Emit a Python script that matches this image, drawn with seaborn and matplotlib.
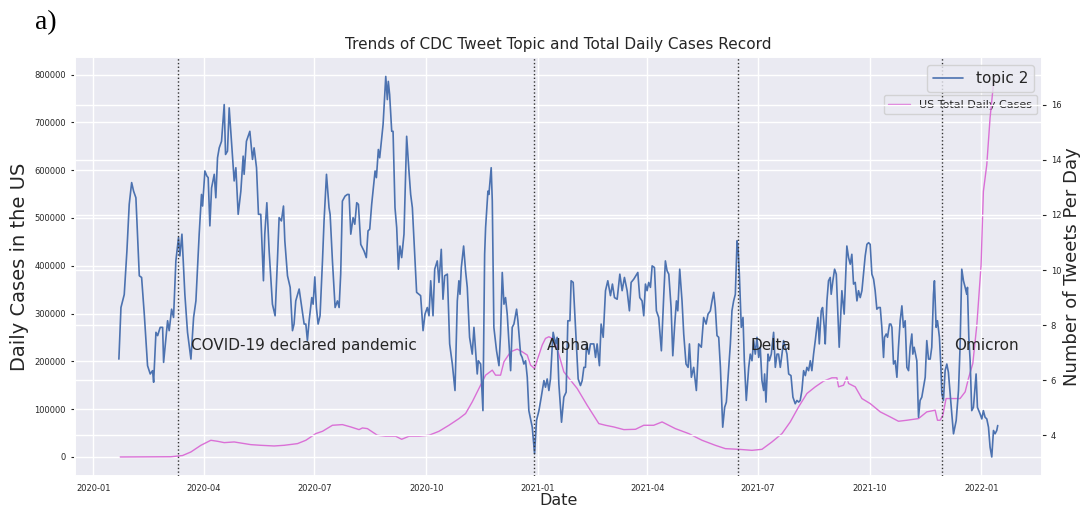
import pandas as pd
import matplotlib
matplotlib.use('Agg')
import matplotlib.pyplot as plt
import matplotlib.dates as mdates
import seaborn as sns

#---------------------------------------------------
#   data
#---------------------------------------------------
# topic 2: days since 2020-01-01 / tweets per day
topic_day = [
    21.0, 22.7, 25.4, 27.6, 29.5, 31.5, 33.1, 35.0, 37.8, 39.7, 41.9, 44.6, 46.8, 48.7, 49.6, 51.5,
    52.9, 55.0, 57.0, 57.8, 61.1, 62.4, 64.4, 66.0, 67.9, 70.1, 71.2, 72.9, 75.3, 77.5, 80.3, 82.5,
    84.4, 87.1, 89.0, 89.9, 91.8, 93.4, 94.5, 95.9, 97.3, 99.5, 100.8, 102.2, 103.6, 105.5, 107.7, 108.8,
    110.4, 111.8, 113.7, 115.9, 117.3, 119.2, 121.4, 123.3, 124.1, 126.0, 128.8, 131.0, 132.3, 134.3, 135.9, 137.8,
    140.0, 141.1, 142.8, 144.7, 147.4, 149.6, 151.5, 152.9, 154.8, 156.5, 157.6, 159.8, 162.0, 163.9, 165.2, 166.6,
    169.4, 171.6, 173.5, 174.9, 176.2, 177.6, 179.8, 180.9, 182.3, 183.6, 185.0, 186.6, 188.6, 189.9, 191.9, 194.0,
    194.9, 196.8, 199.0, 200.9, 202.3, 203.6, 205.0, 207.2, 209.1, 210.5, 211.9, 213.8, 215.2, 216.8, 218.2, 220.1,
    222.8, 224.7, 226.1, 227.5, 229.1, 231.9, 233.0, 234.6, 235.7, 238.5, 240.7, 242.0, 242.8, 243.9, 245.6, 246.7,
    248.3, 249.7, 251.1, 252.4, 253.8, 255.7, 257.9, 259.8, 261.2, 262.6, 264.8, 266.1, 268.1, 269.4, 271.4, 273.0,
    274.9, 276.3, 277.7, 279.6, 281.0, 283.1, 284.5, 286.4, 287.8, 289.2, 291.4, 293.3, 295.5, 297.7, 299.6, 300.9,
    301.8, 302.9, 304.8, 306.4, 307.8, 309.7, 311.9, 313.3, 316.0, 316.9, 318.8, 320.7, 322.1, 322.9, 324.8, 325.6,
    327.5, 328.4, 329.7, 331.9, 333.9, 335.2, 336.6, 338.0, 339.3, 340.7, 343.5, 344.8, 346.2, 348.4, 349.5, 351.7,
    353.0, 354.4, 355.8, 357.2, 358.5, 361.3, 363.2, 364.8, 366.8, 368.7, 370.9, 372.2, 373.6, 375.0, 376.3, 377.7,
    378.5, 380.5, 381.8, 383.2, 385.4, 387.3, 389.2, 390.6, 392.3, 393.3, 395.0, 396.9, 399.1, 401.0, 402.4, 403.8,
    405.1, 406.0, 407.9, 409.2, 412.0, 413.4, 414.7, 416.6, 418.0, 419.7, 421.6, 423.5, 425.7, 427.3, 429.0, 431.2,
    433.4, 435.3, 437.2, 439.4, 441.3, 442.7, 444.9, 448.2, 449.8, 451.7, 453.1, 454.5, 455.8, 457.2, 458.6, 460.0,
    461.9, 463.5, 465.4, 467.6, 469.6, 470.9, 472.3, 473.7, 475.6, 477.0, 478.6, 480.0, 481.1, 482.7, 484.6, 486.0,
    487.9, 489.6, 490.7, 492.3, 494.2, 496.4, 498.3, 500.5, 502.4, 504.4, 506.0, 507.9, 509.3, 510.7, 512.0, 513.4,
    514.8, 516.2, 518.1, 519.7, 521.1, 522.5, 524.4, 525.7, 527.1, 528.5, 529.9, 530.7, 531.8, 533.4, 534.8, 535.9,
    537.5, 539.5, 540.8, 542.2, 543.6, 544.9, 546.3, 547.7, 549.0, 550.4, 551.8, 552.6, 553.7, 555.4, 556.5, 558.1,
    560.0, 561.4, 562.8, 564.1, 565.5, 566.9, 568.2, 569.6, 571.0, 572.4, 574.3, 575.9, 577.8, 579.2, 580.6, 581.9,
    583.3, 584.7, 586.1, 587.4, 588.8, 590.2, 591.5, 592.9, 594.3, 596.5, 597.6, 599.2, 600.3, 601.7, 602.5, 603.9,
    605.2, 606.6, 607.4, 608.8, 610.2, 611.6, 612.9, 614.0, 616.2, 618.1, 620.3, 621.7, 623.1, 624.4, 625.8, 627.2,
    628.6, 629.9, 631.3, 632.7, 634.0, 635.4, 636.8, 638.2, 639.5, 640.9, 642.3, 643.6, 645.0, 646.4, 647.8, 649.1,
    650.5, 651.3, 652.7, 653.8, 655.4, 656.5, 657.4, 658.7, 660.1, 661.5, 662.8, 664.2, 665.6, 666.9, 668.3, 669.7,
    671.1, 672.4, 673.8, 674.6, 675.7, 676.8, 677.9, 679.3, 680.6, 682.0, 683.4, 684.8, 686.1, 687.5, 688.9, 690.2,
    691.6, 692.4, 693.8, 694.9, 696.5, 697.6, 698.5, 699.8, 701.2, 702.6, 703.9, 705.3, 706.7, 708.1, 710.3, 712.2,
    713.5, 714.9, 716.3, 717.7, 719.0, 719.6, 720.7, 721.8, 723.1, 724.5, 726.7, 727.8, 730.0, 731.4, 732.7, 734.1,
    735.5, 736.9, 738.2, 739.6, 741.0, 742.3, 743.7, 744.5,
]
topic_count = [
    6.77, 8.64, 9.11, 10.69, 12.38, 13.17, 12.86, 12.62, 9.79, 9.73, 8.40, 6.53, 6.23, 6.35, 5.93, 7.74,
    7.62, 7.92, 7.92, 6.65, 8.16, 7.80, 8.58, 8.28, 10.33, 11.18, 10.51, 11.30, 9.12, 7.74, 6.77, 8.28,
    8.88, 11.30, 12.74, 12.32, 13.59, 13.41, 13.35, 11.60, 12.98, 13.47, 12.62, 14.07, 14.43, 14.67, 16.00, 14.19,
    14.31, 15.88, 14.67, 13.23, 13.71, 12.02, 12.86, 14.13, 13.47, 14.67, 15.03, 14.01, 14.43, 13.71, 12.02, 12.02,
    9.61, 11.30, 12.44, 10.69, 8.76, 8.34, 10.33, 11.90, 11.78, 12.32, 11.06, 9.79, 9.37, 7.80, 8.04, 8.88,
    9.31, 8.64, 8.04, 8.04, 7.44, 8.16, 9.00, 8.76, 9.75, 8.64, 8.04, 8.34, 10.33, 11.78, 13.47, 12.26,
    12.02, 10.33, 8.64, 8.88, 8.64, 9.85, 12.50, 12.68, 12.74, 12.74, 11.30, 11.90, 11.66, 12.44, 12.38, 10.93,
    10.69, 10.45, 11.42, 11.48, 12.38, 13.59, 13.35, 14.37, 14.07, 15.28, 17.02, 16.18, 16.84, 16.36, 15.03, 15.03,
    12.26, 11.54, 10.03, 10.87, 10.45, 11.30, 14.85, 13.59, 12.74, 12.26, 10.33, 9.19, 9.12, 9.07, 7.80, 8.40,
    8.64, 8.34, 9.61, 8.34, 10.03, 10.33, 9.55, 10.75, 8.94, 9.79, 9.85, 7.32, 6.59, 5.63, 8.88, 9.61,
    9.12, 10.09, 10.87, 9.97, 9.37, 7.56, 6.95, 7.92, 6.23, 6.71, 6.59, 4.90, 10.57, 11.54, 12.86, 12.74,
    13.71, 12.50, 7.92, 7.07, 6.53, 7.68, 9.91, 8.76, 9.00, 8.40, 6.35, 7.92, 8.04, 8.58, 8.16, 6.95,
    6.83, 6.59, 6.71, 6.11, 4.90, 4.30, 3.34, 4.54, 4.90, 5.39, 5.99, 5.75, 6.05, 5.63, 6.05, 7.20,
    7.74, 7.32, 7.56, 5.87, 4.48, 5.39, 5.57, 8.16, 8.16, 9.61, 9.55, 7.92, 6.05, 5.81, 5.99, 6.47,
    6.47, 7.32, 6.95, 7.32, 7.32, 6.83, 7.32, 6.53, 8.04, 7.56, 9.25, 9.61, 9.07, 9.49, 9.00, 8.94,
    9.85, 9.25, 9.73, 9.25, 8.52, 9.55, 9.67, 9.91, 9.00, 8.88, 8.34, 9.49, 9.25, 9.55, 9.37, 10.15,
    10.09, 8.52, 8.28, 7.07, 9.12, 10.33, 9.97, 9.85, 8.64, 6.89, 8.04, 8.88, 8.52, 10.03, 8.88, 7.68,
    6.59, 6.47, 7.32, 6.11, 6.47, 5.63, 7.32, 7.20, 8.28, 8.04, 8.40, 8.52, 8.88, 9.19, 8.64, 7.62,
    7.56, 6.47, 4.30, 5.02, 5.21, 6.11, 7.32, 8.52, 8.88, 9.12, 11.06, 10.81, 9.85, 7.92, 8.28, 6.71,
    5.27, 6.47, 6.95, 6.71, 7.44, 6.95, 7.56, 6.83, 7.20, 5.99, 5.63, 6.23, 5.21, 6.95, 6.71, 6.95,
    7.74, 6.47, 6.95, 6.95, 6.47, 6.95, 7.44, 7.20, 6.95, 6.23, 6.17, 5.39, 5.15, 5.27, 5.21, 5.27,
    5.63, 6.35, 6.17, 6.47, 6.35, 6.71, 6.35, 6.95, 7.44, 8.28, 7.32, 8.52, 8.64, 7.92, 7.32, 8.88,
    9.61, 9.73, 9.12, 9.61, 10.03, 9.85, 8.40, 7.20, 9.25, 8.40, 10.87, 10.45, 10.21, 10.57, 9.49, 9.55,
    8.88, 9.25, 9.00, 9.25, 9.85, 10.51, 10.93, 10.99, 10.93, 9.85, 9.67, 9.25, 8.58, 8.64, 8.64, 7.92,
    6.83, 7.56, 7.68, 7.56, 8.04, 8.04, 7.92, 6.59, 6.71, 6.11, 7.20, 8.16, 8.70, 7.92, 8.16, 6.47,
    6.35, 7.20, 7.68, 6.95, 7.20, 6.95, 6.71, 4.66, 5.27, 5.39, 5.75, 6.11, 7.44, 6.77, 6.77, 7.20,
    9.12, 9.61, 7.92, 8.16, 7.56, 6.59, 5.51, 5.27, 6.35, 6.59, 6.29, 5.51, 4.78, 4.06, 4.54, 5.63,
    7.20, 10.03, 9.61, 9.37, 9.12, 9.37, 7.56, 6.71, 4.90, 5.02, 6.23, 5.02, 4.78, 4.60, 4.90, 4.66,
    4.60, 4.30, 3.58, 3.22, 4.18, 4.06, 4.18, 4.36,
]

# US total daily cases: days since 2020-01-01 / cases
case_day = [
    22.1, 63.8, 73.4, 80.3, 88.5, 96.7, 102.2, 107.7, 115.9, 129.6, 137.8, 148.8, 157.0, 168.0, 174.9, 183.1,
    188.6, 196.8, 205.0, 211.9, 218.7, 221.5, 225.6, 233.8, 240.6, 248.9, 253.8, 259.8, 268.1, 276.3, 284.5, 292.7,
    301.0, 306.4, 311.9, 317.4, 322.9, 328.4, 331.1, 335.2, 338.0, 343.5, 348.9, 353.0, 357.2, 359.9, 363.2, 365.4,
    369.5, 372.2, 375.0, 377.7, 381.8, 387.3, 392.8, 398.3, 406.5, 416.1, 421.6, 428.4, 436.7, 446.3, 453.1, 461.3,
    468.2, 479.1, 490.1, 501.1, 512.0, 520.3, 531.2, 542.2, 550.4, 558.6, 566.9, 573.7, 580.6, 587.4, 594.3, 601.1,
    608.0, 612.1, 613.5, 617.6, 620.3, 621.7, 627.2, 632.7, 639.5, 647.8, 656.0, 662.8, 669.7, 679.3, 686.1, 693.0,
    694.9, 697.1, 699.3, 702.0, 708.1, 713.5, 717.7, 720.4, 724.0, 727.3, 730.8, 732.7, 735.5, 738.2, 740.4, 741.6,
]
case_count = [
    0, 500, 3000, 10500, 24400, 34900, 32800, 30000, 31400, 25800, 24400, 23000, 24400, 27900, 34900, 48900,
    53700, 66300, 67700, 62800, 57200, 60700, 59300, 45400, 43300, 43300, 37000, 43300, 43300, 45400, 53700, 66300,
    80300, 90800, 115200, 143200, 171100, 181600, 171100, 171100, 199100, 220100, 225600, 220100, 213100, 192100, 185100, 202600,
    234000, 248000, 251500, 248000, 227000, 178100, 160700, 143200, 108200, 69800, 66300, 62800, 57200, 57900, 66300, 66300,
    73300, 59300, 48900, 34900, 24400, 17400, 16000, 13900, 16000, 31400, 48900, 73300, 104800, 132700, 146700, 158600,
    165600, 165600, 146700, 150200, 167600, 153700, 146700, 122200, 111700, 94300, 83800, 74700, 76800, 80300, 94300, 97800,
    76800, 76800, 87300, 122200, 122200, 122200, 136200, 164200, 195600, 276000, 401800, 555500, 611400, 709200, 765100, 796000,
]

event_date = ['2020-03-11', '2020-12-29', '2021-06-15', '2021-11-30']
event_name = ['COVID-19 declared pandemic', 'Alpha', 'Delta', 'Omicron']

#---------------------------------------------------
#   plot
#---------------------------------------------------
start = pd.Timestamp('2020-01-01')
df_topic = pd.DataFrame({'Date': start + pd.to_timedelta(topic_day, unit='D'), 'topic 2': topic_count})
df_cases = pd.DataFrame({'Date': start + pd.to_timedelta(case_day, unit='D'), 'cases': case_count})

sns.set_theme(style='darkgrid')
plt.rcParams['font.family'] = ['DejaVu Sans']

fig, ax = plt.subplots(figsize=(10.8, 5.08), dpi=100)
fig.subplots_adjust(left=0.0694, right=0.9645, top=0.887, bottom=0.063)

sns.lineplot(data=df_cases, x='Date', y='cases', ax=ax, color='orchid', linewidth=1.0,
             label='US Total Daily Cases')
ax2 = ax.twinx()
sns.lineplot(data=df_topic, x='Date', y='topic 2', ax=ax2, color='#4c72b0', linewidth=1.2,
             label='topic 2')

for d, name in zip(event_date, event_name):
    t = pd.Timestamp(d)
    ax2.axvline(t, color='#333333', linestyle=':', linewidth=1.0, zorder=3)
    ax2.text(t + pd.Timedelta(days=10), 233000, name, transform=ax.transData,
             fontsize=11, color='#262626', va='center', ha='left', zorder=4)

leg1 = ax.legend(loc='upper right', bbox_to_anchor=(0.995, 0.91), borderaxespad=0, fontsize=8)
leg1.set_zorder(1)
ax2.legend(loc='upper right', fontsize=11)

ax.xaxis.set_major_locator(mdates.MonthLocator(bymonth=[1, 4, 7, 10]))
ax.xaxis.set_major_formatter(mdates.DateFormatter('%Y-%m'))

ax.set_title('Trends of CDC Tweet Topic and Total Daily Cases Record', fontsize=11)
ax.set_xlabel('Date', fontsize=11.5, labelpad=0)
ax.set_ylabel('Daily Cases in the US', fontsize=14)
ax2.set_ylabel('Number of Tweets Per Day', fontsize=13, labelpad=1)

ax.tick_params(axis='x', labelsize=6, length=0, pad=5.5)
ax.tick_params(axis='y', labelsize=6, left=True, length=3, width=0.8)
ax2.tick_params(axis='y', labelsize=6, right=True, length=3, width=0.8)

fig.text(0.032, 0.943, 'a)', fontsize=20, family='Liberation Serif', color='black')

plt.savefig('out.png', dpi=100)
